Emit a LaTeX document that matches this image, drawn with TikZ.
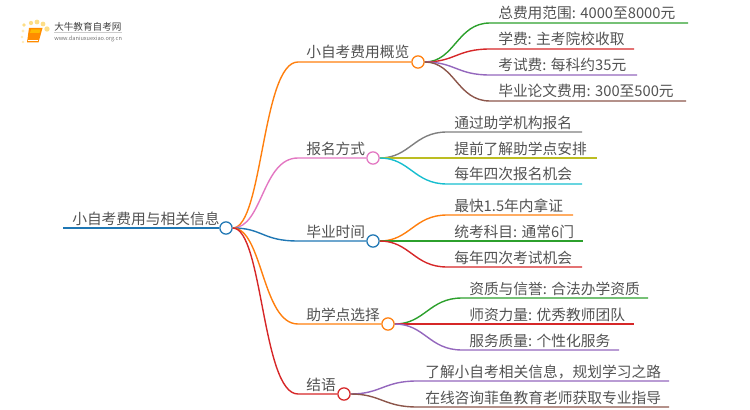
\documentclass[tikz,border=0pt]{standalone}
\usepackage{fontspec}
\usepackage{xcolor}
\setmainfont{Noto Sans CJK SC}
\definecolor{cGreen}{HTML}{2CA02C}
\definecolor{cRed}{HTML}{D62728}
\definecolor{cPurple}{HTML}{9467BD}
\definecolor{cBrown}{HTML}{8C564B}
\definecolor{cGray}{HTML}{7F7F7F}
\definecolor{cOlive}{HTML}{BCBD22}
\definecolor{cCyan}{HTML}{17BECF}
\definecolor{cBlue}{HTML}{1F77B4}
\definecolor{cOrange}{HTML}{FF7F0E}
\definecolor{cPink}{HTML}{E377C2}
\tikzset{
	hub/.style={draw=#1,circle,fill=white,line width=0.95pt,minimum size=9.2pt,inner sep=0pt},
	wire/.style={draw=#1,line width=1.05pt},
	label/.style={anchor=base west,inner sep=0pt,text=black!68,font=\fontsize{11.05pt}{12pt}\selectfont}
}

\begin{document}
\begin{tikzpicture}[x=0.75pt,y=-0.75pt]
        \useasboundingbox (0,0) rectangle (750,410);
        % logo
        \fill[yellow!50!orange!45] (24,25) circle (1.4pt);
        \fill[yellow!50!orange!45] (31,23) circle (1.6pt);
        \fill[yellow!50!orange!45] (37,22) circle (1.8pt);
        \fill[yellow!50!orange!45] (43,24) circle (1.8pt);
        \fill[yellow!50!orange!45] (47,29) circle (2pt);
        \fill[yellow!50!orange!25] (23,31) circle (1.2pt);
        \fill[yellow!50!orange!25] (22,37) circle (1.1pt);
        \fill[yellow!50!orange!25] (23,42) circle (1pt);
        \fill[orange!90!yellow] (29,28) -- (42.5,28) -- (38.5,42.5) -- (27,42.5) -- cycle;
        \fill[orange!55!yellow] (31,29.5) -- (40.5,29.5) -- (39.5,33) -- (30,33) -- cycle;
        \draw[white,line width=0.4pt] (28,40.5) -- (38,40.5);
        \node[anchor=base west,inner sep=0pt,text=black!75,font=\fontsize{7.2pt}{8pt}\selectfont] (logo_name) at (54,31) {大牛教育自考网};
        \node[anchor=base west,inner sep=0pt,text=black!55,font=\fontsize{4.2pt}{5pt}\selectfont] (logo_url) at (54,41) {www.daniuxuexiao.org.cn};
        \draw[black!20,line width=0.4pt] (logo_name.south west) -- (logo_name.south east);
        % hubs
        \node[hub=cBlue] (root) at (226,228) {};
        \node[hub=cOrange] (fee) at (418,62) {};
        \node[hub=cPink] (apply) at (373,158) {};
        \node[hub=cBlue] (grad) at (373,241) {};
        \node[hub=cOrange] (site) at (388,324) {};
        \node[hub=cRed] (end) at (344,394) {};
        % root and its five branches
        \coordinate (root_l) at (63,228);
        \coordinate (fee_s) at (298,62);
        \coordinate (apply_s) at (298,158);
        \coordinate (grad_s) at (298,241);
        \coordinate (site_s) at (298,324);
        \coordinate (end_s) at (298,394);
        \draw[wire=cBlue] (root_l) -- (root);
        \draw[wire=cOrange] (root.east) .. controls +(30,0) and +(-36,0) .. (fee_s) -- (fee);
        \draw[wire=cPink] (root.east) .. controls +(30,0) and +(-36,0) .. (apply_s) -- (apply);
        \draw[wire=cBlue] (root.east) .. controls +(30,0) and +(-36,0) .. (grad_s) -- (grad);
        \draw[wire=cOrange] (root.east) .. controls +(30,0) and +(-36,0) .. (site_s) -- (site);
        \draw[wire=cRed] (root.east) .. controls +(30,0) and +(-36,0) .. (end_s) -- (end);
        \node[label] (root_t) at (72,224) {小自考费用与相关信息};
        \node[label] (fee_t) at (306,58) {小自考费用概览};
        \node[label] (apply_t) at (306,154) {报名方式};
        \node[label] (grad_t) at (306,237) {毕业时间};
        \node[label] (site_t) at (306,320) {助学点选择};
        \node[label] (end_t) at (306,390) {结语};
        % leaves of fee
        \coordinate (fee_1a) at (490,23);
        \coordinate (fee_1b) at (688,23);
        \coordinate (fee_2a) at (490,49);
        \coordinate (fee_2b) at (634,49);
        \coordinate (fee_3a) at (490,75);
        \coordinate (fee_3b) at (637,75);
        \coordinate (fee_4a) at (490,101);
        \coordinate (fee_4b) at (686,101);
        \draw[wire=cGreen] (fee.east) .. controls +(30,0) and +(-33,0) .. (fee_1a) -- (fee_1b);
        \draw[wire=cRed] (fee.east) .. controls +(30,0) and +(-33,0) .. (fee_2a) -- (fee_2b);
        \draw[wire=cPurple] (fee.east) .. controls +(30,0) and +(-33,0) .. (fee_3a) -- (fee_3b);
        \draw[wire=cBrown] (fee.east) .. controls +(30,0) and +(-33,0) .. (fee_4a) -- (fee_4b);
        \node[label] (fee_1t) at (498,19) {总费用范围: 4000至8000元};
        \node[label] (fee_2t) at (498,45) {学费: 主考院校收取};
        \node[label] (fee_3t) at (498,71) {考试费: 每科约35元};
        \node[label] (fee_4t) at (498,97) {毕业论文费用: 300至500元};
        % leaves of apply
        \coordinate (apply_1a) at (447,132);
        \coordinate (apply_1b) at (582,132);
        \coordinate (apply_2a) at (447,158);
        \coordinate (apply_2b) at (597,158);
        \coordinate (apply_3a) at (447,184);
        \coordinate (apply_3b) at (582,184);
        \draw[wire=cGray] (apply.east) .. controls +(30,0) and +(-33,0) .. (apply_1a) -- (apply_1b);
        \draw[wire=cOlive] (apply.east) -- (apply_2a) -- (apply_2b);
        \draw[wire=cCyan] (apply.east) .. controls +(30,0) and +(-33,0) .. (apply_3a) -- (apply_3b);
        \node[label] (apply_1t) at (454,128) {通过助学机构报名};
        \node[label] (apply_2t) at (454,154) {提前了解助学点安排};
        \node[label] (apply_3t) at (454,180) {每年四次报名机会};
        % leaves of grad
        \coordinate (grad_1a) at (447,215);
        \coordinate (grad_1b) at (573,215);
        \coordinate (grad_2a) at (447,241);
        \coordinate (grad_2b) at (583,241);
        \coordinate (grad_3a) at (447,267);
        \coordinate (grad_3b) at (582,267);
        \draw[wire=cOrange] (grad.east) .. controls +(30,0) and +(-33,0) .. (grad_1a) -- (grad_1b);
        \draw[wire=cGreen] (grad.east) -- (grad_2a) -- (grad_2b);
        \draw[wire=cRed] (grad.east) .. controls +(30,0) and +(-33,0) .. (grad_3a) -- (grad_3b);
        \node[label] (grad_1t) at (454,211) {最快1.5年内拿证};
        \node[label] (grad_2t) at (454,237) {统考科目: 通常6门};
        \node[label] (grad_3t) at (454,263) {每年四次考试机会};
        % leaves of site
        \coordinate (site_1a) at (462,298);
        \coordinate (site_1b) at (648,298);
        \coordinate (site_2a) at (462,324);
        \coordinate (site_2b) at (634,324);
        \coordinate (site_3a) at (462,350);
        \coordinate (site_3b) at (619,350);
        \draw[wire=cGreen] (site.east) .. controls +(30,0) and +(-33,0) .. (site_1a) -- (site_1b);
        \draw[wire=cRed] (site.east) -- (site_2a) -- (site_2b);
        \draw[wire=cPurple] (site.east) .. controls +(30,0) and +(-33,0) .. (site_3a) -- (site_3b);
        \node[label] (site_1t) at (469,294) {资质与信誉: 合法办学资质};
        \node[label] (site_2t) at (469,320) {师资力量: 优秀教师团队};
        \node[label] (site_3t) at (469,346) {服务质量: 个性化服务};
        % leaves of end
        \coordinate (end_1a) at (417,381);
        \coordinate (end_1b) at (669,381);
        \coordinate (end_2a) at (417,407);
        \coordinate (end_2b) at (669,407);
        \draw[wire=cPurple] (end.east) .. controls +(30,0) and +(-33,0) .. (end_1a) -- (end_1b);
        \draw[wire=cBrown] (end.east) .. controls +(30,0) and +(-33,0) .. (end_2a) -- (end_2b);
        \node[label] (end_1t) at (425,377) {了解小自考相关信息，规划学习之路};
        \node[label] (end_2t) at (425,403) {在线咨询菲鱼教育老师获取专业指导};
    \end{tikzpicture}
\end{document}
